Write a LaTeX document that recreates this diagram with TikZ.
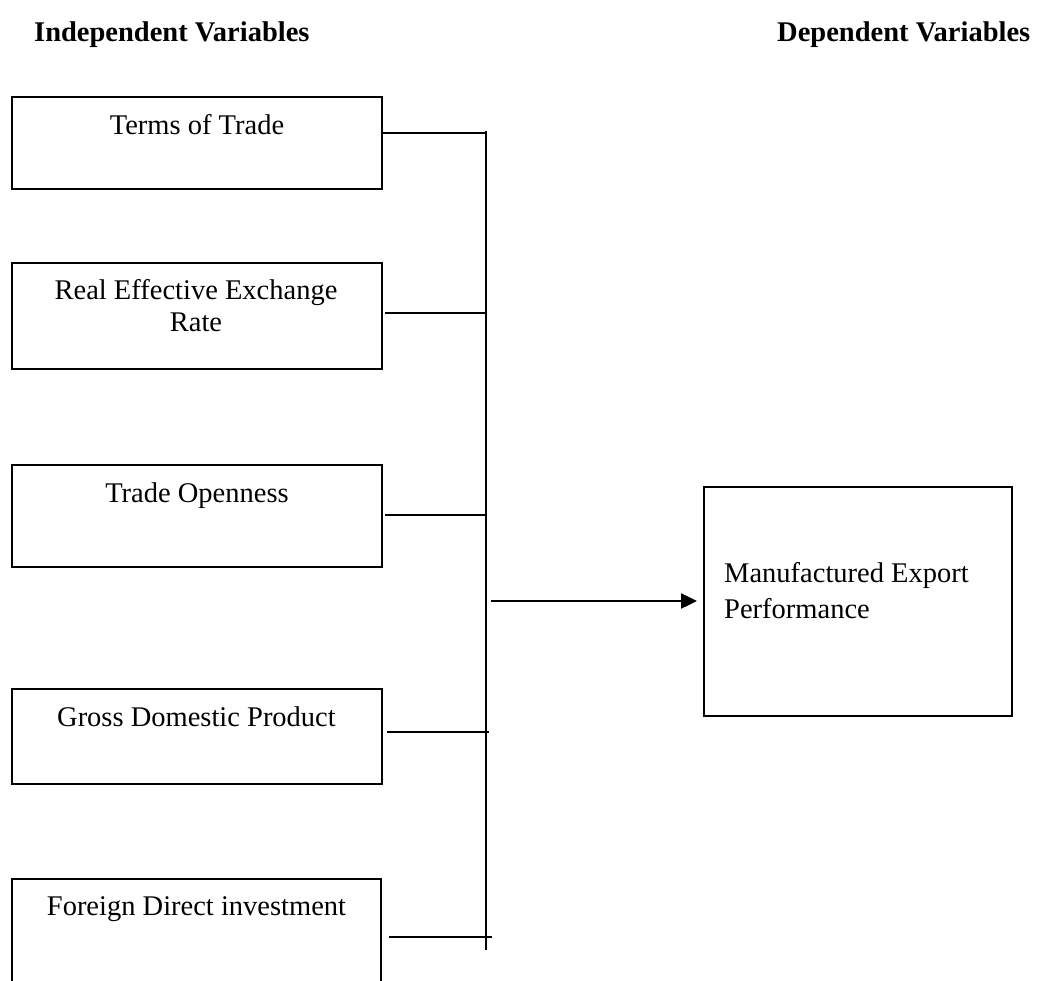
\documentclass[tikz,border=0pt]{standalone}
\usepackage{fontspec}
\setmainfont{Liberation Serif}
\usetikzlibrary{arrows.meta}
\begin{document}
\begin{tikzpicture}[x=1pt,y=-1pt,
  box/.style={draw=black,line width=1.6pt,rectangle,inner sep=0pt,outer sep=0pt},
  lbl/.style={inner sep=0pt,anchor=base,font=\fontsize{28.5}{30}\selectfont},
  head/.style={inner sep=0pt,anchor=base west,font=\fontsize{28.5}{30}\selectfont\bfseries},
  wire/.style={draw=black,line width=1.6pt},
  arr/.style={draw=black,line width=2.4pt,-{Triangle[length=16pt,width=15pt]}}]
\clip (0,0) rectangle (1043,981);
\fill[white] (0,0) rectangle (1043,981);
% headings
\node[head] (hi) at (34,42) {Independent Variables};
\node[head] (hd) at (777,42) {Dependent Variables};
% boxes
\node[box,minimum width=370pt,minimum height=92pt] (b1) at (197,143) {};
\node[box,minimum width=370pt,minimum height=106pt] (b2) at (197,316) {};
\node[box,minimum width=370pt,minimum height=102pt] (b3) at (197,516) {};
\node[box,minimum width=370pt,minimum height=95pt] (b4) at (197,736.5) {};
\node[box,minimum width=369pt,minimum height=140pt] (b5) at (196.5,949) {};
\node[box,minimum width=308pt,minimum height=229pt] (mep) at (858,601.5) {};
% texts
\node[lbl] (t1) at (197,135) {Terms of Trade};
\node[lbl] (t2a) at (196,299) {Real Effective Exchange};
\node[lbl] (t2b) at (196,331) {Rate};
\node[lbl] (t3) at (197,502) {Trade Openness};
\node[lbl] (t4) at (196.5,726) {Gross Domestic Product};
\node[lbl] (t5) at (196.5,915) {Foreign Direct investment};
\node[lbl,anchor=base west] (m1) at (724,582) {Manufactured Export};
\node[lbl,anchor=base west] (m2) at (724,618) {Performance};
% bus
\coordinate (bt) at (486,131);
\coordinate (bb) at (486,950);
\draw[wire] (bt) -- (bb);
\coordinate (e1) at (486,133);
\coordinate (s2) at (385,313);
\coordinate (e2) at (486,313);
\coordinate (s3) at (385,515);
\coordinate (e3) at (486,515);
\coordinate (s4) at (387,732);
\coordinate (e4) at (489,732);
\coordinate (s5) at (389,937);
\coordinate (e5) at (492,937);
\draw[wire] (b1.east |- e1) -- (e1);
\draw[wire] (s2) -- (e2);
\draw[wire] (s3) -- (e3);
\draw[wire] (s4) -- (e4);
\draw[wire] (s5) -- (e5);
\coordinate (as) at (491,601);
\coordinate (ae) at (697,601);
\draw[arr] (as) -- (ae);
\end{tikzpicture}
\end{document}
